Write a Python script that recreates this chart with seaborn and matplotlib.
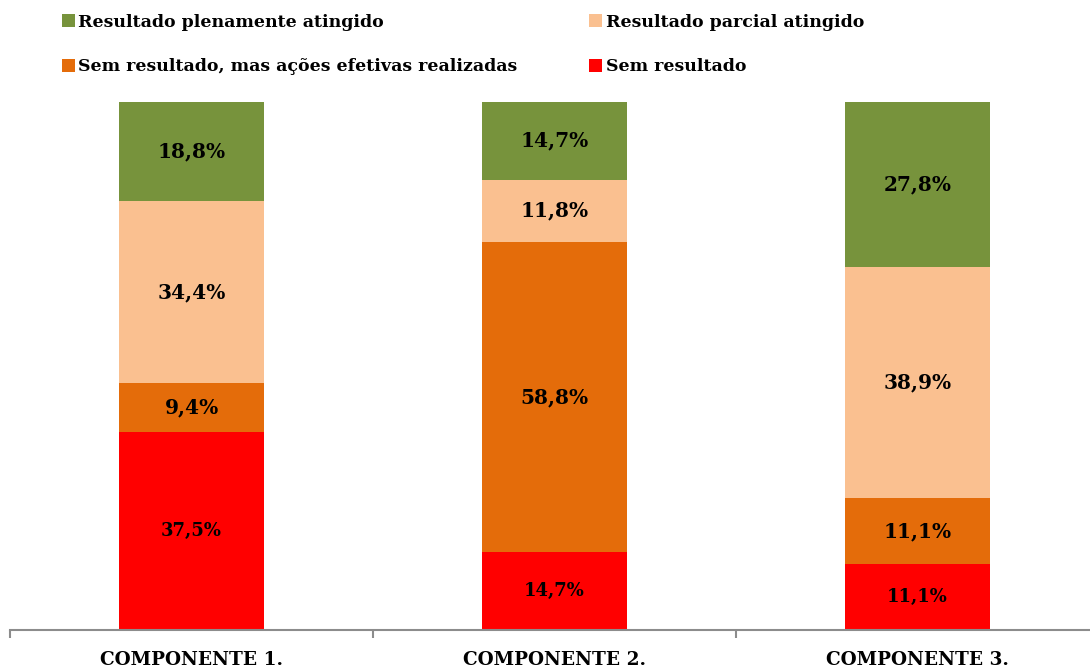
import numpy as np
import pandas as pd
import seaborn as sns
import matplotlib.pyplot as plt
from matplotlib.patches import Patch

componentes = ["COMPONENTE 1.", "COMPONENTE 2.", "COMPONENTE 3."]
categorias = [
    "Sem resultado",
    "Sem resultado, mas ações efetivas realizadas",
    "Resultado parcial atingido",
    "Resultado plenamente atingido",
]
cores = ["#FF0000", "#E46C0A", "#FAC090", "#77933C"]

sem_resultado = [37.5, 14.7, 11.1]
sem_resultado_acoes = [9.4, 58.8, 11.1]
parcial = [34.4, 11.8, 38.9]
pleno = [18.8, 14.7, 27.8]

series = [sem_resultado, sem_resultado_acoes, parcial, pleno]

sns.set_style("white")
plt.rcParams["font.family"] = ["DejaVu Serif"]
plt.rcParams["font.weight"] = "bold"
plt.rcParams["text.color"] = "black"

vals = np.array(series, dtype=float)
shares = vals / vals.sum(axis=0) * 100  # bars are drawn as 100% stacks
tops = shares.cumsum(axis=0)

fig = plt.figure(figsize=(10.9, 6.7), dpi=100)
ax = fig.add_axes([10 / 1090, 40 / 670, 1089 / 1090, 528 / 670])

# classic seaborn stacking: draw cumulative bars from the top category down
for i in range(len(categorias) - 1, -1, -1):
    df = pd.DataFrame({"comp": componentes, "top": tops[i]})
    sns.barplot(data=df, x="comp", y="top", color=cores[i], width=0.4,
                saturation=1, ax=ax, order=componentes, linewidth=0)

for j in range(len(componentes)):
    for i in range(len(categorias)):
        mid = tops[i, j] - shares[i, j] / 2
        size = 13 if i == 0 else 14.5
        ax.text(j, mid, f"{vals[i, j]:.1f}%".replace(".", ","), ha="center",
                va="center", fontsize=size, fontweight="bold", color="black")

ax.set_ylim(0, 100)
ax.set_xlim(-0.5, 2.5)
ax.set_yticks([])
ax.set_xlabel("")
ax.set_ylabel("")
ax.set_xticks(range(len(componentes)))
ax.set_xticklabels(componentes, fontsize=13.3, fontweight="bold", color="black")
ax.tick_params(axis="x", which="major", length=0, pad=15)
ax.set_xticks([-0.5, 0.5, 1.5, 2.5], minor=True)
ax.tick_params(axis="x", which="minor", bottom=True, length=6, width=1.5,
               color="#8c8c8c", direction="out")
for s in ["top", "right", "left"]:
    ax.spines[s].set_visible(False)
ax.spines["bottom"].set_color("#8c8c8c")
ax.spines["bottom"].set_linewidth(1.5)

ordem = [3, 1, 2, 0]
handles = [Patch(facecolor=cores[i], edgecolor="none") for i in ordem]
labels = [categorias[i] for i in ordem]
leg = fig.legend(handles, labels, loc="upper left",
                 bbox_to_anchor=(46 / 1090, 1.003), ncol=2, frameon=False,
                 handlelength=0.75, handleheight=0.75, handletextpad=0.2,
                 columnspacing=4.15, labelspacing=1.6,
                 prop={"weight": "bold", "size": 12.5})
for t in leg.get_texts():
    t.set_color("black")

fig.savefig("out.png", dpi=100)
